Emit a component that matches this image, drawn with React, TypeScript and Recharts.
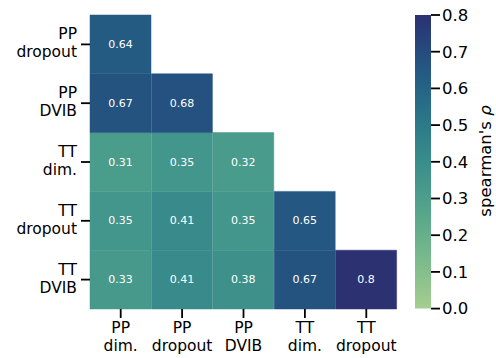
import React from "react";
import { BarChart, Bar, XAxis, YAxis, Cell, LabelList, Label } from "recharts";

// lower-triangle spearman correlations, rows top -> bottom
const colLabels = ["PP dim.", "PP dropout", "PP DVIB", "TT dim.", "TT dropout"];
const rowLabels = ["PP dropout", "PP DVIB", "TT dim.", "TT dropout", "TT DVIB"];
const ppDropout = [0.64, null, null, null, null];
const ppDvib = [0.67, 0.68, null, null, null];
const ttDim = [0.31, 0.35, 0.32, null, null];
const ttDropout = [0.35, 0.41, 0.35, 0.65, null];
const ttDvib = [0.33, 0.41, 0.38, 0.67, 0.8];
const rows: (number | null)[][] = [ppDropout, ppDvib, ttDim, ttDropout, ttDvib];
const cbarTicks = [0, 0.1, 0.2, 0.3, 0.4, 0.5, 0.6, 0.7, 0.8];
const vmax = 0.8;

// approx seaborn "crest"
const crestStops = [
  "#a5cd90", "#8bc28d", "#72b68c", "#5ca98b", "#499b8b", "#398d8a",
  "#2e7e89", "#276d87", "#245b83", "#26467c", "#2c3172",
];

const hex = (c: string) => [1, 3, 5].map((i) => parseInt(c.slice(i, i + 2), 16));
const crest = (t: number) => {
  const p = Math.max(0, Math.min(1, t)) * (crestStops.length - 1);
  const i = Math.min(Math.floor(p), crestStops.length - 2);
  const f = p - i;
  const a = hex(crestStops[i]);
  const b = hex(crestStops[i + 1]);
  const m = a.map((v, k) => Math.round(v + (b[k] - v) * f));
  return `rgb(${m[0]},${m[1]},${m[2]})`;
};

const font = "DejaVu Sans";

// one stacked segment per row, bottom row first
const data = colLabels.map((c, j) => {
  const d: Record<string, any> = { col: c };
  rows.forEach((_, i) => (d["r" + i] = 1));
  return d;
});

const YTick = (props: any) => {
  const { x, y, payload } = props;
  const lines = rowLabels[4 - Math.floor(payload.value)].split(" ");
  return (
    <text x={x - 2} y={y} textAnchor="end" fontFamily={font} fontSize={15.5} fill="#000">
      <tspan x={x - 2} dy={-5}>{lines[0]}</tspan>
      <tspan x={x - 2} dy={18}>{lines[1]}</tspan>
    </text>
  );
};

const XTick = (props: any) => {
  const { x, y, payload } = props;
  const lines = String(payload.value).split(" ");
  return (
    <text x={x} y={y} textAnchor="middle" fontFamily={font} fontSize={15.5} fill="#000">
      <tspan x={x} dy={13}>{lines[0]}</tspan>
      <tspan x={x} dy={18}>{lines[1]}</tspan>
    </text>
  );
};

const cellLabel = (rowIdx: number) => (props: any) => {
  const { x, y, width, height, index } = props;
  const v = rows[rowIdx][index];
  if (v == null) return null;
  return (
    <text
      x={x + width / 2}
      y={y + height / 2}
      textAnchor="middle"
      dominantBaseline="central"
      fontFamily={font}
      fontSize={11}
      fill="#fff"
    >
      {String(v)}
    </text>
  );
};

const App = () => {
  const order = [4, 3, 2, 1, 0];
  return (
    <div style={{ position: "absolute", left: 0, top: 0, width: 496, height: 358, background: "#fff" }}>
      <div style={{ position: "absolute", left: 0, top: 0 }}>
        <BarChart
          width={496}
          height={358}
          data={data}
          margin={{ top: 15, right: 99, bottom: 0, left: 0 }}
          barCategoryGap={0}
          barGap={0}
        >
          <XAxis
            dataKey="col"
            height={49}
            axisLine={false}
            tickSize={9}
            tickLine={{ stroke: "#000", strokeWidth: 1.8 }}
            tick={<XTick />}
            interval={0}
          />
          <YAxis
            type="number"
            domain={[0, 5]}
            ticks={[0.5, 1.5, 2.5, 3.5, 4.5]}
            width={90}
            axisLine={false}
            tickSize={9}
            tickLine={{ stroke: "#000", strokeWidth: 1.8 }}
            tick={<YTick />}
            interval={0}
          />
          {order.map((i) => (
            <Bar key={i} dataKey={"r" + i} stackId="m" isAnimationActive={false}>
              {rows[i].map((v, j) => (
                <Cell
                  key={j}
                  fill={v == null ? "transparent" : crest(v / vmax)}
                  stroke={v == null ? "none" : crest(v / vmax)}
                  strokeWidth={0.5}
                />
              ))}
              <LabelList content={cellLabel(i)} />
            </Bar>
          ))}
        </BarChart>
      </div>
      <div style={{ position: "absolute", left: 0, top: 0 }}>
        <BarChart
          width={496}
          height={358}
          data={[{ k: "cb", v: vmax }]}
          margin={{ top: 15, right: 0, bottom: 49.4, left: 415 }}
          barCategoryGap={0}
        >
          <defs>
            <linearGradient id="crestGrad" x1="0" y1="1" x2="0" y2="0">
              {crestStops.map((c, i) => (
                <stop key={i} offset={i / (crestStops.length - 1)} stopColor={c} />
              ))}
            </linearGradient>
          </defs>
          <XAxis dataKey="k" hide />
          <YAxis
            type="number"
            orientation="right"
            domain={[0, vmax]}
            ticks={cbarTicks}
            width={65}
            axisLine={false}
            tickSize={9}
            tickLine={{ stroke: "#000", strokeWidth: 1.8 }}
            tick={{ fontFamily: font, fontSize: 16.5, fill: "#000" }}
            tickFormatter={(v: number) => v.toFixed(1)}
            interval={0}
          >
            <Label
              content={() => (
                <text
                  x={485}
                  y={161}
                  transform="rotate(-90 485 161)"
                  textAnchor="middle"
                  dominantBaseline="central"
                  fontFamily={font}
                  fontSize={16.5}
                  fill="#000"
                >
                  spearman's <tspan fontStyle="italic">ρ</tspan>
                </text>
              )}
            />
          </YAxis>
          <Bar dataKey="v" fill="url(#crestGrad)" isAnimationActive={false} />
        </BarChart>
      </div>
    </div>
  );
};

export default App;
